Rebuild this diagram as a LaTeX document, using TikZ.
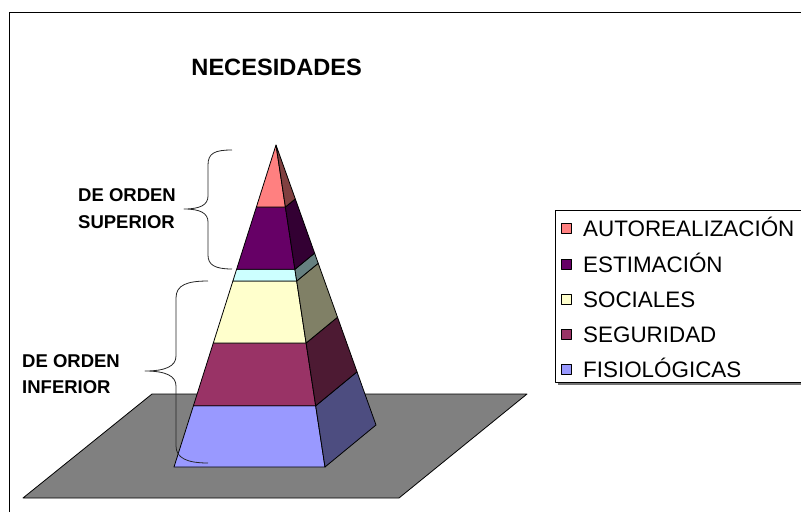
\documentclass[tikz,border=0pt]{standalone}
\usepackage{fontspec}
\setmainfont{Liberation Sans}
\usetikzlibrary{positioning}
\definecolor{suelo}{HTML}{808080}
\definecolor{autorealizacion}{HTML}{FF8080}
\definecolor{autorealizacionlado}{HTML}{804040}
\definecolor{estimacion}{HTML}{660066}
\definecolor{estimacionlado}{HTML}{330033}
\definecolor{franja}{HTML}{CCFFFF}
\definecolor{franjalado}{HTML}{668080}
\definecolor{sociales}{HTML}{FFFFCC}
\definecolor{socialeslado}{HTML}{808066}
\definecolor{seguridad}{HTML}{993366}
\definecolor{seguridadlado}{HTML}{4D1A33}
\definecolor{fisiologicas}{HTML}{9999FF}
\definecolor{fisiologicaslado}{HTML}{4D4D80}

\begin{document}
\begin{tikzpicture}[x=1pt,y=-1pt,line join=round,
		cara/.style={draw=black,line width=0.8pt},
		llave/.style={draw=black!85,line width=0.8pt},
		etiqueta/.style={font=\bfseries\fontsize{18.5}{26.5}\selectfont,align=left,anchor=north west,inner sep=0pt},
		caja/.style={draw=black,line width=0.6pt,minimum size=10pt,inner sep=0pt},
		leyenda/.style={font=\fontsize{22.4}{26}\selectfont,anchor=base west,inner sep=0pt}]
		\useasboundingbox (0,0) rectangle (801,512);
		\draw[line width=1pt] (9,512)--(9,12)--(801,12);
		\node[font=\bfseries\fontsize{23.6}{28}\selectfont,anchor=base,inner sep=0pt] (titulo) at (276.7,75) {NECESIDADES};
		\filldraw[cara,fill=suelo] (152,394)--(527,394)--(399,498)--(23,498)--cycle;
		\filldraw[cara,fill=fisiologicas] (193.4,405.8)--(315.7,405.8)--(325,467)--(174,467)--cycle;
		\filldraw[cara,fill=fisiologicaslado] (315.7,405.8)--(357,371.8)--(376,425)--(325,467)--cycle;
		\filldraw[cara,fill=seguridad] (213.3,343)--(306.1,343)--(315.7,405.8)--(193.4,405.8)--cycle;
		\filldraw[cara,fill=seguridadlado] (306.1,343)--(337.5,317.2)--(357,371.8)--(315.7,405.8)--cycle;
		\filldraw[cara,fill=sociales] (232.9,281)--(296.7,281)--(306.1,343)--(213.3,343)--cycle;
		\filldraw[cara,fill=socialeslado] (296.7,281)--(318.2,263.3)--(337.5,317.2)--(306.1,343)--cycle;
		\filldraw[cara,fill=franja] (236.6,269.3)--(294.9,269.3)--(296.7,281)--(232.9,281)--cycle;
		\filldraw[cara,fill=franjalado] (294.9,269.3)--(314.6,253.1)--(318.2,263.3)--(296.7,281)--cycle;
		\filldraw[cara,fill=estimacion] (256.4,207)--(285.4,207)--(294.9,269.3)--(236.6,269.3)--cycle;
		\filldraw[cara,fill=estimacionlado] (285.4,207)--(295.3,198.9)--(314.6,253.1)--(294.9,269.3)--cycle;
		\filldraw[cara,fill=autorealizacion] (276,145)--(285.4,207)--(256.4,207)--cycle;
		\filldraw[cara,fill=autorealizacionlado] (276,145)--(295.3,198.9)--(285.4,207)--cycle;
		\coordinate (puntasup) at (184,209);
		\coordinate (puntainf) at (145,371);
		\draw[llave] (232,150) .. controls (215,150) and (208,153) .. (208,165) -- (208,196) .. controls (208,205) and (200,209) .. (puntasup) .. controls (200,209) and (208,213) .. (208,222) -- (208,255) .. controls (208,265) and (215,269) .. (232,269);
		\draw[llave] (208,281) .. controls (187,281) and (176,285) .. (176,298) -- (176,356) .. controls (176,366) and (166,371) .. (puntainf) .. controls (166,371) and (176,376) .. (176,386) -- (176,446) .. controls (176,458) and (187,463) .. (208,463);
		\node[etiqueta] (superior) at (78,188.5) {DE ORDEN\\SUPERIOR};
		\node[etiqueta] (inferior) at (22,354) {DE ORDEN\\INFERIOR};
		\fill[black!55] (557.5,212.5) rectangle (803,384.5);
		\filldraw[fill=white,line width=0.8pt] (555,210) rectangle (803,382);
		\node[caja,fill=autorealizacion] (cajaauto) at (566.7,228.3) {};
		\node[caja,fill=estimacion] (cajaestim) at (566.7,264.3) {};
		\node[caja,fill=sociales] (cajasoc) at (566.7,299.3) {};
		\node[caja,fill=seguridad] (cajaseg) at (566.7,334.3) {};
		\node[caja,fill=fisiologicas] (cajafis) at (566.7,369.3) {};
		\node[leyenda] (textoauto) at (583,236.2) {AUTOREALIZACIÓN};
		\node[leyenda] (textoestim) at (583,272.2) {ESTIMACIÓN};
		\node[leyenda] (textosoc) at (583,307.2) {SOCIALES};
		\node[leyenda] (textoseg) at (583,342.2) {SEGURIDAD};
		\node[leyenda] (textofis) at (583,377.2) {FISIOLÓGICAS};
	\end{tikzpicture}
\end{document}
